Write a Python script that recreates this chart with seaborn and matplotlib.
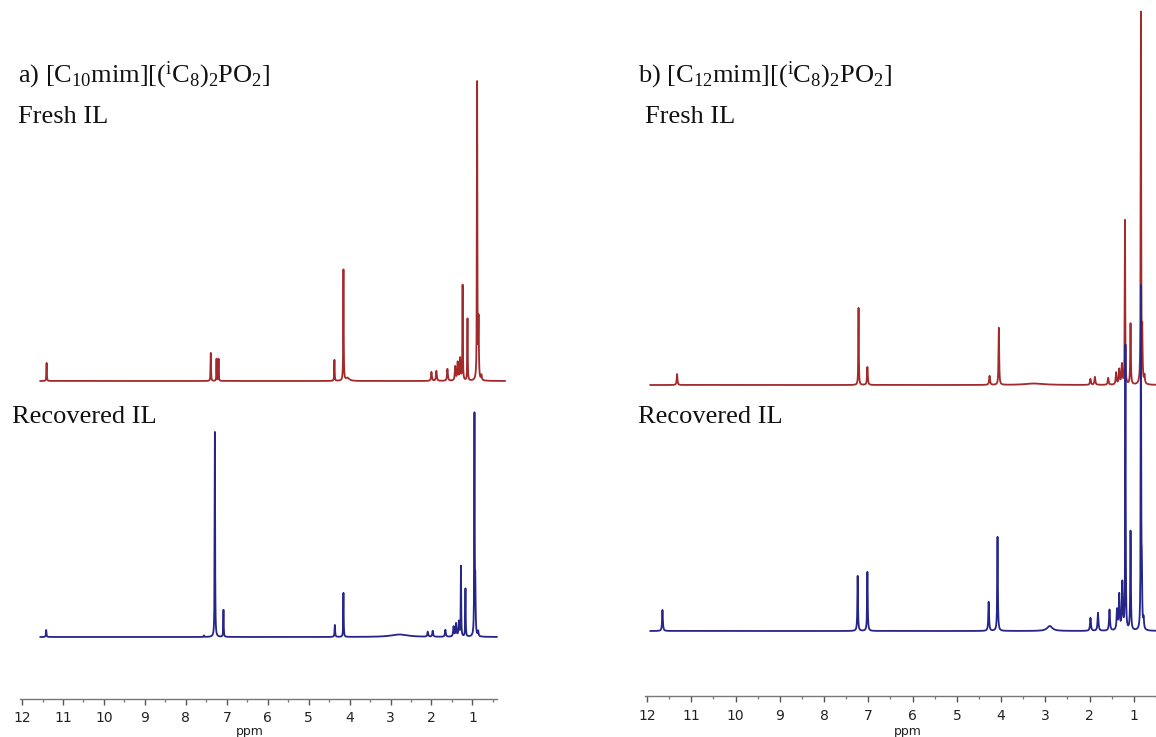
import numpy as np
import pandas as pd
import matplotlib
matplotlib.use("Agg")
import matplotlib.pyplot as plt
import seaborn as sns

# ---------------- data ----------------
# panel a) [C10mim][(iC8)2PO2]
a_fresh_ppm = [11.40, 7.39, 7.25, 7.20, 4.37, 4.15, 4.05, 2.00, 1.88, 1.61, 1.42, 1.36, 1.30, 1.24, 1.12, 0.885, 0.85, 0.78]
a_fresh_int = [18, 28, 22, 22, 21, 111, 3, 9, 10, 12, 14, 18, 22, 95, 62, 297, 58, 5]
a_fresh_wid = [0.006, 0.006, 0.005, 0.005, 0.006, 0.006, 0.05, 0.012, 0.012, 0.012, 0.012, 0.012, 0.012, 0.006, 0.006, 0.006, 0.008, 0.01]

a_rec_ppm = [11.41, 7.56, 7.29, 7.08, 4.36, 4.15, 2.78, 2.09, 1.97, 1.66, 1.46, 1.40, 1.33, 1.28, 1.17, 0.95, 0.93, 0.86]
a_rec_int = [7, 1.5, 205, 27, 12, 44, 2.5, 5, 6, 7, 10, 13, 15, 70, 48, 218, 47, 5]
a_rec_wid = [0.008, 0.006, 0.006, 0.006, 0.008, 0.006, 0.25, 0.012, 0.012, 0.012, 0.012, 0.012, 0.012, 0.006, 0.006, 0.006, 0.008, 0.01]

# panel b) [C12mim][(iC8)2PO2]
b_fresh_ppm = [11.32, 7.22, 7.02, 4.26, 4.05, 3.25, 1.98, 1.88, 1.58, 1.40, 1.33, 1.27, 1.20, 1.075, 0.84, 0.81, 0.76]
b_fresh_int = [11, 77, 18, 9, 57, 1.5, 6, 8, 7, 12, 15, 20, 164, 61, 370, 48, 8]
b_fresh_wid = [0.01, 0.006, 0.01, 0.012, 0.008, 0.25, 0.012, 0.012, 0.012, 0.012, 0.012, 0.012, 0.006, 0.008, 0.006, 0.008, 0.01]

b_rec_ppm = [11.65, 7.24, 7.02, 4.28, 4.08, 2.90, 1.98, 1.81, 1.55, 1.38, 1.33, 1.26, 1.19, 1.075, 0.84, 0.82, 0.78]
b_rec_int = [21, 55, 59, 29, 94, 5, 13, 18, 21, 20, 35, 47, 284, 99, 338, 53, 10]
b_rec_wid = [0.01, 0.008, 0.008, 0.01, 0.008, 0.07, 0.012, 0.012, 0.012, 0.012, 0.012, 0.012, 0.006, 0.008, 0.006, 0.008, 0.01]

tick_values = list(range(12, 0, -1))
tick_labels = [str(v) for v in tick_values]

titles = [r"a) [C$_{\mathrm{10}}$mim][($^{\mathrm{i}}$C$_{\mathrm{8}}$)$_{\mathrm{2}}$PO$_{\mathrm{2}}$]",
          r"b) [C$_{\mathrm{12}}$mim][($^{\mathrm{i}}$C$_{\mathrm{8}}$)$_{\mathrm{2}}$PO$_{\mathrm{2}}$]"]
fresh_label = "Fresh IL"
rec_label = "Recovered IL"
axis_label = "ppm"

# ---------------- style ----------------
sns.set_theme(style="white")
plt.rcParams["font.family"] = ["DejaVu Sans"]
plt.rcParams["mathtext.fontset"] = "custom"
plt.rcParams["mathtext.rm"] = "Liberation Serif"
plt.rcParams["mathtext.it"] = "Liberation Serif:italic"
plt.rcParams["mathtext.bf"] = "Liberation Serif:bold"

RED = "#A3292B"
BLUE = "#25258A"
W, H = 1156, 737


def spectrum(lo, hi, pos, inten, wid):
    x = np.round(np.arange(lo, hi, 0.001), 4)
    y = np.zeros_like(x)
    for p, h, w in zip(pos, inten, wid):
        y += h * w ** 2 / (w ** 2 + (x - p) ** 2)
    return x, y


fig = plt.figure(figsize=(W / 100, H / 100), dpi=100)

panels = [
    dict(l=20, r=497, spine=699, xlim=(12.05, 0.4), fb=381, rb=637,
         fr=(0.2, 11.56), rr=(0.4, 11.56),
         fresh=(a_fresh_ppm, a_fresh_int, a_fresh_wid), rec=(a_rec_ppm, a_rec_int, a_rec_wid)),
    dict(l=645, r=1156, spine=696, xlim=(12.045, 0.575), fb=385, rb=631,
         fr=(0.3, 11.93), rr=(0.3, 11.93),
         fresh=(b_fresh_ppm, b_fresh_int, b_fresh_wid), rec=(b_rec_ppm, b_rec_int, b_rec_wid)),
]

for pn in panels:
    ax = fig.add_axes([pn["l"] / W, (H - pn["spine"]) / H, (pn["r"] - pn["l"]) / W, pn["spine"] / H])
    ax.set_facecolor("none")
    ax.set_xlim(*pn["xlim"])
    ax.set_ylim(0, pn["spine"])

    xf, yf = spectrum(*pn["fr"], *pn["fresh"])
    xr, yr = spectrum(*pn["rr"], *pn["rec"])
    df_f = pd.DataFrame({"ppm": xf, "I": yf + (pn["spine"] - pn["fb"])})
    df_r = pd.DataFrame({"ppm": xr, "I": yr + (pn["spine"] - pn["rb"])})
    sns.lineplot(data=df_f, x="ppm", y="I", ax=ax, color=RED, lw=1.3,
                 estimator=None, sort=False, clip_on=False)
    sns.lineplot(data=df_r, x="ppm", y="I", ax=ax, color=BLUE, lw=1.3,
                 estimator=None, sort=False, clip_on=False)

    for s in ["top", "right", "left"]:
        ax.spines[s].set_visible(False)
    ax.spines["bottom"].set_color("#777777")
    ax.spines["bottom"].set_linewidth(1.0)
    ax.set_yticks([])
    ax.set_xticks(tick_values)
    ax.set_xticklabels(tick_labels, fontsize=10, color="#222222")
    ax.set_xticks(np.arange(11.5, 0.4, -1.0), minor=True)
    ax.tick_params(axis="x", which="major", direction="out", length=4.5, width=1.0,
                   color="#555555", pad=4.5, bottom=True)
    ax.tick_params(axis="x", which="minor", direction="out", length=2.5, width=0.9,
                   color="#777777", bottom=True)
    ax.set_xlabel("")
    ax.set_ylabel("")

# ---------------- texts ----------------
serif = ["Liberation Serif", "DejaVu Serif"]
fs = 19
fig.text(18 / W, 1 - 75 / H, titles[0], fontsize=fs, family=serif, va="center", ha="left", color="#111111")
fig.text(18 / W, 1 - 117 / H, fresh_label, fontsize=fs, family=serif, va="center", ha="left", color="#111111")
fig.text(12 / W, 1 - 417 / H, rec_label, fontsize=fs, family=serif, va="center", ha="left", color="#111111")
fig.text(638 / W, 1 - 75 / H, titles[1], fontsize=fs, family=serif, va="center", ha="left", color="#111111")
fig.text(645 / W, 1 - 117 / H, fresh_label, fontsize=fs, family=serif, va="center", ha="left", color="#111111")
fig.text(638 / W, 1 - 417 / H, rec_label, fontsize=fs, family=serif, va="center", ha="left", color="#111111")

fig.text(250 / W, 1 - 731 / H, axis_label, fontsize=9, va="center", ha="center", color="#222222")
fig.text(908 / W, 1 - 731 / H, axis_label, fontsize=9, va="center", ha="center", color="#222222")

fig.savefig("out.png", dpi=100, facecolor="white")
